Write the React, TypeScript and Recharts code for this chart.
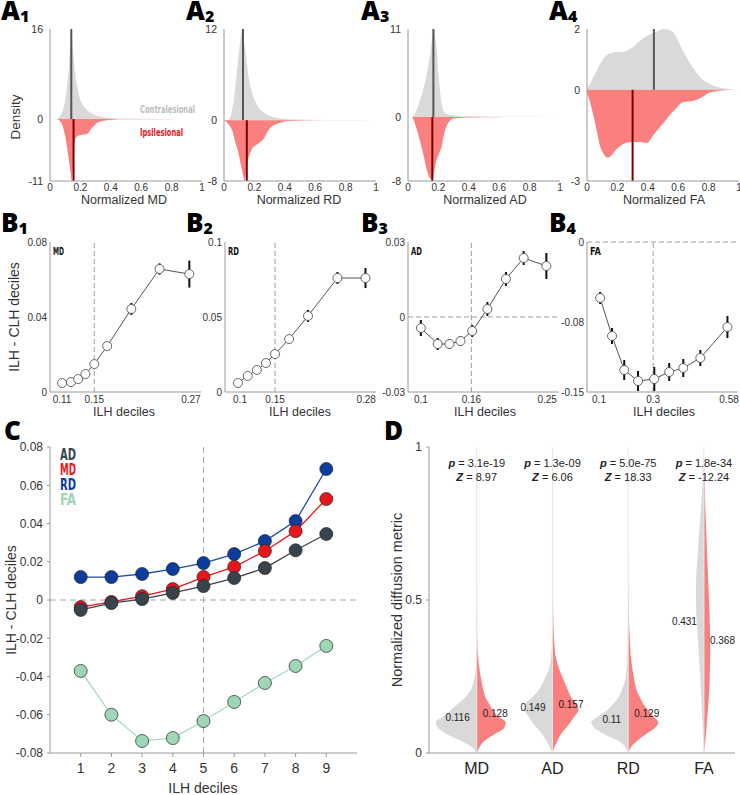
import React from 'react';
import { ComposedChart, Area, Line, XAxis, YAxis, ReferenceLine, ReferenceDot, ErrorBar } from 'recharts';

const FONT = "'Liberation Sans', Arial, Helvetica, sans-serif";
const COND = "'Liberation Sans Narrow', 'DejaVu Sans Condensed', 'Roboto Condensed', sans-serif";
const HEAVY = "'Open Sans', 'Noto Sans', sans-serif";
const GRAY = '#d9d9d9';
const PINK = '#fa7f7f';
const AXIS = '#9a9a9a';

// ---------------- Panel A : density curves ----------------
const a1X = [0, 0.04, 0.06, 0.08, 0.10, 0.115, 0.125, 0.135, 0.14, 0.145, 0.15, 0.156, 0.165, 0.178, 0.19, 0.21, 0.24, 0.276, 0.32, 0.41, 0.5, 0.7, 1.0];
const a1Contra = [0, 0, 0.3, 1.2, 3.4, 6.5, 9.3, 14, 16, 14.5, 12.5, 11, 8, 6, 4.3, 2.8, 1.7, 1.0, 0.5, 0.2, 0.1, 0.03, 0];
const a1Ipsi = [0, 0, -0.2, -1.0, -3.0, -5.5, -7.5, -9.5, -10.7, -11, -9, -5.5, -3.8, -3.1, -2.9, -2.8, -2.7, -1.6, -0.5, -0.1, -0.05, -0.02, 0];

const a2X = [0, 0.02, 0.04, 0.055, 0.077, 0.09, 0.1, 0.11, 0.116, 0.125, 0.138, 0.143, 0.153, 0.175, 0.186, 0.21, 0.23, 0.263, 0.296, 0.316, 0.36, 0.43, 0.55, 0.8, 1.0];
const a2Contra = [0, 0, 0.3, 1.5, 4.8, 7.5, 9.2, 11, 12, 11, 9.5, 8.8, 7, 4.3, 3.5, 2.3, 1.6, 1.0, 0.6, 0.45, 0.25, 0.12, 0.05, 0.02, 0];
const a2Ipsi = [0, -0.3, -0.8, -1.4, -3.1, -3.9, -4.8, -5.8, -6.3, -7.2, -8, -7.3, -5.8, -4.2, -3.7, -3.3, -3, -2.4, -1.2, -0.8, -0.4, -0.1, -0.04, -0.01, 0];

const a3X = [0, 0.024, 0.057, 0.079, 0.1, 0.125, 0.145, 0.16, 0.171, 0.18, 0.189, 0.2, 0.21, 0.22, 0.23, 0.25, 0.3, 0.4, 0.6, 1.0];
const a3Contra = [0, 0, 0.9, 2.1, 3.4, 5.5, 7.8, 10, 11, 10, 8.4, 5.5, 3.4, 1.8, 0.9, 0.4, 0.2, 0.08, 0.03, 0];
const a3Ipsi = [0, 0, -1.5, -3.0, -4.6, -6.7, -7.7, -7.8, -7.0, -6.0, -5.3, -4.8, -4.3, -3.8, -2.8, -1.3, -0.2, -0.05, -0.02, 0];

const a4X = [0, 0.02, 0.04, 0.064, 0.083, 0.108, 0.14, 0.17, 0.195, 0.24, 0.26, 0.3, 0.33, 0.37, 0.395, 0.435, 0.46, 0.51, 0.55, 0.57, 0.63, 0.7, 0.77, 0.79, 0.85, 0.875, 0.93, 1.0];
const a4Contra = [0.05, 0.2, 0.4, 0.63, 0.82, 1.03, 1.17, 1.23, 1.24, 1.25, 1.28, 1.4, 1.52, 1.7, 1.77, 1.87, 1.92, 2.0, 1.95, 1.87, 1.3, 0.7, 0.3, 0.24, 0.1, 0.07, 0.03, 0];
const a4Ipsi = [-0.1, -0.4, -0.8, -1.35, -1.8, -2.1, -2.23, -2.1, -1.95, -1.78, -1.74, -1.72, -1.72, -1.73, -1.74, -1.5, -1.35, -1.05, -0.8, -0.7, -0.41, -0.36, -0.2, -0.13, -0.05, -0.03, -0.01, 0];

const aMetrics = ['MD', 'RD', 'AD', 'FA'];
const aTop = [16, 12, 11, 2];
const aBottom = [-11, -8, -8, -3];
const aMedContra = [0.14, 0.125, 0.167, 0.44];
const aMedIpsi = [0.155, 0.15, 0.16, 0.30];
const aTicks = [0, 0.2, 0.4, 0.6, 0.8, 1];

// ---------------- Panel B : decile differences ----------------
const b1X = [0.11, 0.121, 0.13, 0.139, 0.15, 0.166, 0.196, 0.231, 0.268];
const b1Y = [0.0048, 0.0053, 0.0069, 0.0096, 0.0149, 0.0245, 0.0443, 0.0656, 0.0629];
const b1Err = [0.001, 0.001, 0.001, 0.001, 0.0012, 0.0012, 0.0032, 0.003, 0.0072];

const b2X = [0.097, 0.111, 0.124, 0.137, 0.15, 0.17, 0.197, 0.239, 0.279];
const b2Y = [0.006, 0.0107, 0.0147, 0.0193, 0.0253, 0.0353, 0.0507, 0.076, 0.076];
const b2Err = [0.0013, 0.0013, 0.0013, 0.0013, 0.0015, 0.002, 0.004, 0.004, 0.0067];

const b3X = [0.1, 0.12, 0.134, 0.147, 0.161, 0.179, 0.201, 0.222, 0.249];
const b3Y = [-0.0044, -0.0108, -0.0108, -0.0096, -0.0056, 0.0032, 0.0152, 0.0236, 0.0204];
const b3Err = [0.0032, 0.0024, 0.002, 0.002, 0.0024, 0.0028, 0.0028, 0.0028, 0.0052];

const b4X = [0.104, 0.148, 0.193, 0.244, 0.304, 0.359, 0.411, 0.474, 0.574];
const b4Y = [-0.056, -0.094, -0.128, -0.139, -0.137, -0.130, -0.126, -0.116, -0.085];
const b4Err = [0.006, 0.008, 0.01, 0.01, 0.012, 0.009, 0.009, 0.008, 0.011];

const bXDomains = [[0.095, 0.2825], [0.0786, 0.294], [0.0847, 0.264], [0.0556, 0.613]];
const bXTicks = [[0.11, 0.15, 0.27], [0.1, 0.15, 0.28], [0.1, 0.16, 0.25], [0.1, 0.3, 0.58]];
const bYDomains = [[0, 0.08], [0, 0.1], [-0.03, 0.03], [-0.15, 0]];
const bYTicks = [[0, 0.04, 0.08], [0, 0.05, 0.1], [-0.03, 0, 0.03], [-0.15, -0.08, 0]];
const bMedian = [0.15, 0.15, 0.16, 0.3];
const bMetrics = ['MD', 'RD', 'AD', 'FA'];

// ---------------- Panel C : all metrics by decile ----------------
const deciles = [1, 2, 3, 4, 5, 6, 7, 8, 9];
const cAD = [-0.0052, -0.0016, 0.0005, 0.0037, 0.0073, 0.0115, 0.0167, 0.026, 0.0345];
const cMD = [-0.0037, -0.001, 0.002, 0.0057, 0.012, 0.0173, 0.0256, 0.036, 0.0528];
const cRD = [0.012, 0.012, 0.0136, 0.0162, 0.0193, 0.024, 0.0308, 0.0413, 0.0685];
const cFA = [-0.0371, -0.060, -0.0737, -0.0722, -0.0633, -0.0533, -0.0434, -0.0345, -0.024];
const cYTicks = [-0.08, -0.06, -0.04, -0.02, 0, 0.02, 0.04, 0.06, 0.08];
const cLegend = ['AD', 'MD', 'RD', 'FA'];

// ---------------- Panel D : split violins ----------------
const dCategories = ['MD', 'AD', 'RD', 'FA'];
const dY = [0, 0.02, 0.04, 0.06, 0.08, 0.10, 0.12, 0.14, 0.16, 0.18, 0.20, 0.24, 0.28, 0.32, 0.36, 0.40, 0.45, 0.50, 0.55, 0.60, 0.65, 0.70, 0.75, 0.80, 0.85, 0.90, 0.95, 1.0];
const mdContraD = [0, 5, 16, 29, 38, 41, 33, 26, 19, 12, 7, 2.5, 1, 0.5, 0.3, 0.2, 0.1, 0, 0, 0, 0, 0, 0, 0, 0, 0, 0, 0];
const mdIpsiD = [0, 3, 8, 17, 27, 29, 21, 16, 12.5, 9, 7, 4.5, 2.5, 1.2, 0.6, 0.4, 0.3, 0.2, 0.1, 0, 0, 0, 0, 0, 0, 0, 0, 0];
const adContraD = [0, 3, 6, 10, 15, 20, 24, 28, 27, 21, 15, 8, 3, 1.2, 0.5, 0.3, 0.2, 0.1, 0, 0, 0, 0, 0, 0, 0, 0, 0, 0];
const adIpsiD = [0, 2, 5, 8, 13, 18, 22, 26, 24, 19, 16, 11, 6, 3, 1.8, 1.2, 0.8, 0.5, 0.3, 0.2, 0.1, 0, 0, 0, 0, 0, 0, 0];
const rdContraD = [0, 3, 10, 23, 33, 37, 30, 21, 15, 10, 7, 3, 1.5, 0.7, 0.4, 0.3, 0.2, 0.1, 0, 0, 0, 0, 0, 0, 0, 0, 0, 0];
const rdIpsiD = [0, 3, 9, 17, 26, 30, 25, 20, 15, 12, 9, 6, 4, 2.5, 1.8, 1.2, 0.8, 0.5, 0.3, 0.2, 0.1, 0, 0, 0, 0, 0, 0, 0];
const faContraD = [0, 0.3, 0.6, 0.9, 1.2, 1.5, 1.8, 2.1, 2.4, 2.7, 3.0, 3.6, 4.3, 5, 5.8, 6.6, 7.5, 8, 8, 7.3, 6.3, 5.2, 4, 3, 2, 1.1, 0.4, 0];
const faIpsiD = [0, 0.8, 1.5, 2, 2.5, 3, 3.5, 4, 4.4, 4.8, 5.2, 5.7, 6, 6.2, 6.2, 6, 5.6, 5, 4.4, 3.8, 3.2, 2.6, 2, 1.4, 0.9, 0.5, 0.2, 0];
const dContraMedian = [0.116, 0.149, 0.11, 0.431];
const dIpsiMedian = [0.128, 0.157, 0.129, 0.368];
const dP = ['3.1e-19', '1.3e-09', '5.0e-75', '1.8e-34'];
const dZ = ['8.97', '6.06', '18.33', '-12.24'];

const VSCALE = 1 / 75.7; // density units -> category-axis units

const tickStyle = (size: number) => ({ fontSize: size, fill: '#333', fontFamily: FONT });

function DensityPanel({ left, x, c, i, top, bottom, medC, medI }: any) {
  const data = x.map((v: number, k: number) => ({ x: v, c: c[k], i: i[k] }));
  const yW = 40, xH = 30, W = 152, H = 152, PT = 29, MT = 8;
  return (
    <div style={{ position: 'absolute', left: left - yW, top: PT - MT }}>
      <ComposedChart width={yW + W + 6} height={H + MT + xH} data={data} margin={{ top: MT, right: 6, left: 0, bottom: 0 }}>
        <XAxis dataKey="x" type="number" domain={[0, 1]} ticks={aTicks} interval={0} height={xH} tickLine={false} tickSize={2} tickMargin={1} axisLine={{ stroke: AXIS }} tick={tickStyle(10)} allowDataOverflow />
        <YAxis type="number" domain={[bottom, top]} ticks={[bottom, 0, top]} interval={0} width={yW} tickLine={false} tickSize={3} tickMargin={4} axisLine={{ stroke: AXIS }} tick={tickStyle(10.5)} allowDataOverflow />
        <Area type="monotone" dataKey="c" baseValue={0} stroke="none" fill={GRAY} fillOpacity={1} isAnimationActive={false} dot={false} activeDot={false} />
        <Area type="monotone" dataKey="i" baseValue={0} stroke="none" fill={PINK} fillOpacity={1} isAnimationActive={false} dot={false} activeDot={false} />
        <ReferenceLine segment={[{ x: medC, y: 0 }, { x: medC, y: top }]} stroke="#555" strokeWidth={2} />
        <ReferenceLine segment={[{ x: medI, y: 0 }, { x: medI, y: bottom }]} stroke="#7a0000" strokeWidth={2} />
      </ComposedChart>
    </div>
  );
}

function DecilePanel({ left, x, y, err, xDomain, xTicks, yDomain, yTicks, vline, hline }: any) {
  const data = x.map((v: number, k: number) => ({ x: v, y: y[k], e: err[k] }));
  const yW = 40, xH = 30, W = 151, H = 150, PT = 242, MT = 8;
  return (
    <div style={{ position: 'absolute', left: left - yW, top: PT - MT }}>
      <ComposedChart width={yW + W + 6} height={H + MT + xH} data={data} margin={{ top: MT, right: 6, left: 0, bottom: 0 }}>
        <XAxis dataKey="x" type="number" domain={xDomain} ticks={xTicks} interval={0} height={xH} tickLine={false} tickSize={1} tickMargin={3} axisLine={{ stroke: AXIS }} tick={tickStyle(10)} allowDataOverflow />
        <YAxis type="number" domain={yDomain} ticks={yTicks} interval={0} width={yW} tickLine={false} tickSize={1} tickMargin={2} axisLine={{ stroke: AXIS }} tick={tickStyle(10)} allowDataOverflow />
        <ReferenceLine x={vline} stroke="#a0a0a0" strokeDasharray="5 3" />
        {hline !== undefined && <ReferenceLine y={hline} stroke="#a0a0a0" strokeDasharray="5 3" />}
        <Line dataKey="y" type="linear" stroke="#555" strokeWidth={1} isAnimationActive={false}
          dot={{ r: 4.5, fill: '#fff', stroke: '#444', strokeWidth: 0.8 }} activeDot={false}>
          <ErrorBar dataKey="e" width={0} stroke="#111" strokeWidth={2} direction="y" />
        </Line>
      </ComposedChart>
    </div>
  );
}

const cColors: Record<string, string> = { AD: '#38434c', MD: '#e8161b', RD: '#0c3c9c', FA: '#9fd6b6' };
const cLineColors: Record<string, string> = { AD: '#38434c', MD: '#e8161b', RD: '#1d4aa8', FA: '#a6dbc0' };

function PanelC() {
  const data = deciles.map((d, k) => ({ d, AD: cAD[k], MD: cMD[k], RD: cRD[k], FA: cFA[k] }));
  const yW = 40, xH = 40, W = 307, H = 306, PT = 447, L = 50, MT = 10;
  const order = ['FA', 'RD', 'MD', 'AD'];
  return (
    <div style={{ position: 'absolute', left: L - yW, top: PT - MT }}>
      <ComposedChart width={yW + W + 8} height={H + MT + xH} data={data} margin={{ top: MT, right: 8, left: 0, bottom: 0 }}>
        <XAxis dataKey="d" type="number" domain={[0, 10]} ticks={deciles} interval={0} height={xH} tickLine={{ stroke: AXIS }} tickSize={4} tickMargin={6} axisLine={{ stroke: AXIS }} tick={tickStyle(14)} allowDataOverflow />
        <YAxis type="number" domain={[-0.08, 0.08]} ticks={cYTicks} interval={0} width={yW} tickLine={{ stroke: AXIS }} tickSize={3} tickMargin={4} axisLine={{ stroke: AXIS }} tick={tickStyle(12)}
          tickFormatter={(v: number) => (v === 0 ? '0' : v.toFixed(2))} allowDataOverflow />
        <ReferenceLine x={5} stroke="#a8a8a8" strokeDasharray="6 4" />
        <ReferenceLine y={0} stroke="#a8a8a8" strokeDasharray="6 4" />
        {order.map((m) => (
          <Line key={m} dataKey={m} type="linear" stroke={cLineColors[m]} strokeWidth={1.3} isAnimationActive={false}
            dot={{ r: 6.5, fill: cColors[m], stroke: '#222', strokeWidth: 0.7, fillOpacity: 1 }} activeDot={false} />
        ))}
      </ComposedChart>
    </div>
  );
}

const medLabel = (anchor: 'start' | 'end', text: string) => (p: any) => (
  <text x={p.cx + (anchor === 'end' ? -7 : 6)} y={p.cy} textAnchor={anchor} dominantBaseline="central" fontSize={10} fill="#222" fontFamily={FONT}>{text}</text>
);

const pzLabel = (p: string, z: string) => (props: any) => (
  <g>
    <text x={props.cx} y={props.cy} textAnchor="middle" dominantBaseline="central" fontSize={11} fill="#222" fontFamily={FONT}>
      <tspan fontWeight={700} fontStyle="italic">p</tspan> = {p}
    </text>
    <text x={props.cx} y={props.cy + 14} textAnchor="middle" dominantBaseline="central" fontSize={11} fill="#222" fontFamily={FONT}>
      <tspan fontWeight={700} fontStyle="italic">Z</tspan> = {z}
    </text>
  </g>
);

function PanelD() {
  const contra = [mdContraD, adContraD, rdContraD, faContraD];
  const ipsi = [mdIpsiD, adIpsiD, rdIpsiD, faIpsiD];
  const data = dY.map((y, k) => {
    const row: any = { y };
    dCategories.forEach((name, j) => {
      row[name + '_c'] = j + 1 - contra[j][k] * VSCALE;
      row[name + '_i'] = j + 1 + ipsi[j][k] * VSCALE;
    });
    return row;
  });
  const yW = 40, xH = 40, W = 306, H = 306, PT = 447, L = 429, MT = 10;
  return (
    <div style={{ position: 'absolute', left: L - yW, top: PT - MT }}>
      <ComposedChart layout="vertical" width={yW + W + 5} height={H + MT + xH} data={data} margin={{ top: MT, right: 5, left: 0, bottom: 0 }}>
        <XAxis type="number" domain={[0.37, 4.41]} ticks={[1, 2, 3, 4]} interval={0} height={xH} tickLine={false} tickSize={2} tickMargin={8} axisLine={{ stroke: AXIS }} tick={{ fontSize: 16, fill: '#222', fontFamily: FONT }}
          tickFormatter={(v: number) => dCategories[v - 1]} allowDataOverflow />
        <YAxis type="number" dataKey="y" domain={[0, 1]} ticks={[0, 0.5, 1]} interval={0} reversed width={yW} tickLine={{ stroke: AXIS }} tickSize={3} tickMargin={4} axisLine={{ stroke: AXIS }} tick={tickStyle(12)} allowDataOverflow />
        {dCategories.map((name, j) => (
          <ReferenceLine key={'l' + name} x={j + 1} stroke="#e6e6e6" strokeWidth={1} />
        ))}
        {dCategories.map((name, j) => (
          <Area key={'c' + name} type="monotone" dataKey={name + '_c'} baseValue={j + 1} stroke="none" fill={GRAY} fillOpacity={1} isAnimationActive={false} dot={false} activeDot={false} />
        ))}
        {dCategories.map((name, j) => (
          <Area key={'i' + name} type="monotone" dataKey={name + '_i'} baseValue={j + 1} stroke="none" fill={PINK} fillOpacity={1} isAnimationActive={false} dot={false} activeDot={false} />
        ))}
        {dCategories.map((name, j) => (
          <ReferenceDot key={'mc' + name} x={j + 1} y={dContraMedian[j]} r={0} shape={medLabel('end', String(dContraMedian[j]))} />
        ))}
        {dCategories.map((name, j) => (
          <ReferenceDot key={'mi' + name} x={j + 1} y={dIpsiMedian[j]} r={0} shape={medLabel('start', String(dIpsiMedian[j]))} />
        ))}
        {dCategories.map((name, j) => (
          <ReferenceDot key={'pz' + name} x={j + 1} y={0.948} r={0} shape={pzLabel(dP[j], dZ[j])} />
        ))}
      </ComposedChart>
    </div>
  );
}

const Letter = ({ x, y, L, sub }: any) => (
  <text x={x} y={y} fontFamily={HEAVY} fontWeight={800} fontSize={26} fill="#000">
    {L}
    {sub && <tspan fontSize={16} dy={2}>{sub}</tspan>}
  </text>
);

const Rot = ({ x, y, size, children }: any) => (
  <text x={x} y={y} transform={`rotate(-90 ${x} ${y})`} textAnchor="middle" dominantBaseline="central" fontSize={size} fill="#333" fontFamily={FONT}>{children}</text>
);

export default function App() {
  const aLefts = [50, 224, 408, 587];
  const aData = [
    [a1X, a1Contra, a1Ipsi],
    [a2X, a2Contra, a2Ipsi],
    [a3X, a3Contra, a3Ipsi],
    [a4X, a4Contra, a4Ipsi],
  ];
  const bData = [
    [b1X, b1Y, b1Err],
    [b2X, b2Y, b2Err],
    [b3X, b3Y, b3Err],
    [b4X, b4Y, b4Err],
  ];
  const bLefts = [50, 225, 408, 587];
  const bH = [undefined, undefined, 0, 0];
  const aCenters = [124, 299, 485, 664];
  const bCenters = [124, 300, 485, 664];
  const letterX = [1, 186, 361, 549];
  return (
    <div style={{ position: 'absolute', left: 0, top: 0, width: 740, height: 795, background: '#fff', overflow: 'hidden' }}>
      {aLefts.map((l, k) => (
        <DensityPanel key={'a' + k} left={l} x={aData[k][0]} c={aData[k][1]} i={aData[k][2]} top={aTop[k]} bottom={aBottom[k]} medC={aMedContra[k]} medI={aMedIpsi[k]} />
      ))}
      {bLefts.map((l, k) => (
        <DecilePanel key={'b' + k} left={l} x={bData[k][0]} y={bData[k][1]} err={bData[k][2]} xDomain={bXDomains[k]} xTicks={bXTicks[k]} yDomain={bYDomains[k]} yTicks={bYTicks[k]} vline={bMedian[k]} hline={bH[k]} />
      ))}
      <PanelC />
      <PanelD />
      <svg width={740} height={795} style={{ position: 'absolute', left: 0, top: 0, pointerEvents: 'none' }}>
        {letterX.map((x, k) => <Letter key={'LA' + k} x={x} y={20} L="A" sub={String(k + 1)} />)}
        {letterX.map((x, k) => <Letter key={'LB' + k} x={x} y={232} L="B" sub={String(k + 1)} />)}
        <Letter x={4} y={440} L="C" />
        <Letter x={384} y={440} L="D" />

        <Rot x={15} y={117} size={13.5}>Density</Rot>
        {aMetrics.map((m, k) => (
          <text key={'ax' + m} x={aCenters[k]} y={200} textAnchor="middle" dominantBaseline="central" fontSize={12.5} fill="#333" fontFamily={FONT}>{'Normalized ' + m}</text>
        ))}
        <text x={140} y={109} dominantBaseline="central" fontSize={10} fontWeight={700} fill="#bdbdbd" fontFamily={COND} textLength={55} lengthAdjust="spacingAndGlyphs">Contralesional</text>
        <text x={140} y={132} dominantBaseline="central" fontSize={10} fontWeight={700} fill="#e8141c" fontFamily={COND} textLength={43} lengthAdjust="spacingAndGlyphs">Ipsilesional</text>

        <Rot x={14} y={317} size={14}>ILH - CLH deciles</Rot>
        {bCenters.map((cx, k) => (
          <text key={'bx' + k} x={cx} y={412} textAnchor="middle" dominantBaseline="central" fontSize={12.5} fill="#333" fontFamily={FONT}>ILH deciles</text>
        ))}
        {bMetrics.map((m, k) => (
          <text key={'bm' + m} x={bLefts[k] + 3} y={251} dominantBaseline="central" fontSize={10} fontWeight={700} fill="#111" fontFamily={COND} textLength={11} lengthAdjust="spacingAndGlyphs">{m}</text>
        ))}

        {cLegend.map((m, k) => (
          <text key={'cl' + m} x={60} y={460 + k * 15} fontSize={15} fontWeight={700} fill={cColors[m]} fontFamily={COND} textLength={16} lengthAdjust="spacingAndGlyphs">{m}</text>
        ))}
        <Rot x={11} y={600} size={14}>ILH - CLH deciles</Rot>
        <text x={203} y={788} textAnchor="middle" dominantBaseline="central" fontSize={14} fill="#333" fontFamily={FONT}>ILH deciles</text>

        <Rot x={397} y={600} size={14.5}>Normalized diffusion metric</Rot>
      </svg>
    </div>
  );
}
